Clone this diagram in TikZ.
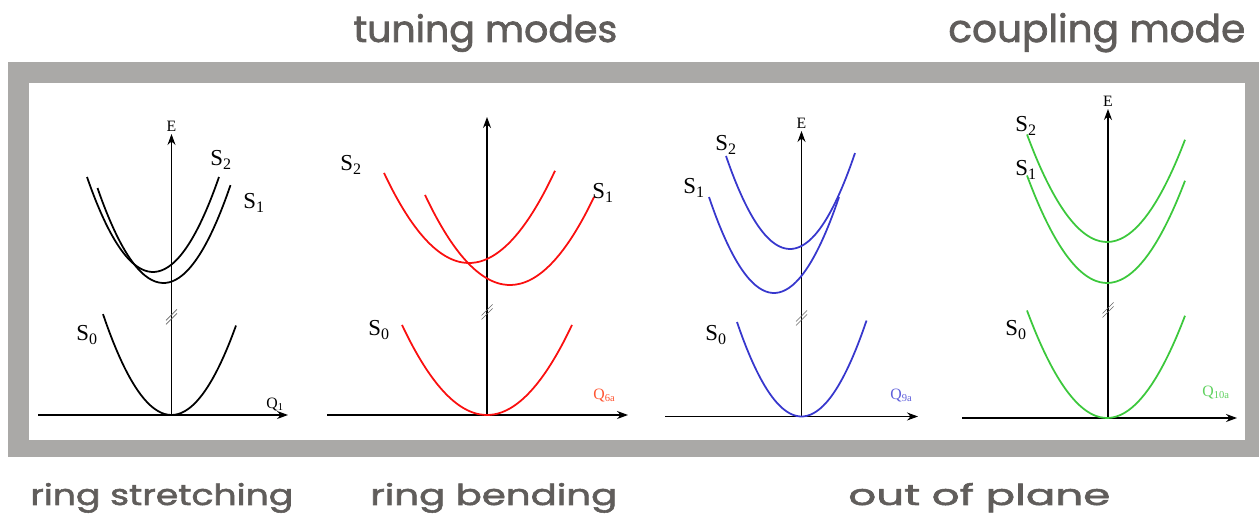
\documentclass[tikz,border=0pt]{standalone}
\usepackage{fontspec}
\setmainfont{Liberation Serif}
\newfontfamily\headfont{Poppins}[FakeBold=1.8]
\usetikzlibrary{arrows.meta}
\definecolor{framegray}{RGB}{170,169,167}
\definecolor{headgray}{RGB}{96,93,91}
\definecolor{cred}{RGB}{250,15,15}
\definecolor{qred}{RGB}{255,85,50}
\definecolor{cblue}{RGB}{55,55,205}
\definecolor{qblue}{RGB}{95,95,220}
\definecolor{cgreen}{RGB}{60,200,60}
\definecolor{qgreen}{RGB}{95,210,95}
\newcommand{\headtext}[3]{\resizebox{#1}{#2}{\headfont #3}}
\tikzset{axis/.style={-{Stealth[length=2.2mm,width=1.6mm]},line width=0.6pt},
  curve/.style={line width=1pt,smooth,samples=40},
  lvl/.style={anchor=base west,inner sep=0pt,font=\fontsize{13}{13}\selectfont},
  small/.style={inner sep=0pt,font=\fontsize{9}{9}\selectfont},
  head/.style={anchor=base west,inner sep=0pt,text=headgray},
  brk/.style={black!60,line width=0.4pt}}

\begin{document}
\begin{tikzpicture}[x=0.02cm,y=-0.02cm]
\useasboundingbox (0,0) rectangle (1259,516);
% frame
\fill[framegray] (8,62) rectangle (1259,457);
\fill[white] (29,83) rectangle (1245,440);
% headings
\node[head] (tune) at (353,42) {\headtext{5.28cm}{0.56cm}{tuning modes}};
\node[head] (coup) at (948,42) {\headtext{5.94cm}{0.58cm}{coupling mode}};
\node[head] (rstr) at (30,505) {\headtext{5.26cm}{0.44cm}{ring stretching}};
\node[head] (rbnd) at (370,505) {\headtext{4.94cm}{0.44cm}{ring bending}};
\node[head] (oop) at (848,505) {\headtext{5.24cm}{0.44cm}{out of plane}};

% ring stretching (Q1)
\coordinate (o1) at (171.5,415);
\coordinate (xa1) at (38,415);
\coordinate (xe1) at (288,415);
\coordinate (ye1) at (171.5,134);
\coordinate (b1) at (171.5,317);
\draw[axis] (xa1) -- (xe1);
\draw[axis] (o1) -- (ye1);
\node[small,anchor=south] (e1) at ([yshift=1pt]ye1) {E};
\node[small,anchor=base west] (q1) at (266,409) {Q\textsubscript{1}};
\draw[curve] plot[domain=87:219] (\x,{272-0.0218*(\x-153)^2});
\draw[curve] plot[domain=97.5:230.5] (\x,{283-0.0218*(\x-163.5)^2});
\draw[curve] plot[domain=103:236] (\x,{415-0.0215*(\x-171.5)^2});
\node[lvl] (s21) at (210,166) {S\textsubscript{2}};
\node[lvl] (s11) at (243,209) {S\textsubscript{1}};
\node[lvl] (s01) at (76,341) {S\textsubscript{0}};
\foreach \d in {-2,2}
  \draw[brk] ([shift={(-5.5,{5.5+\d})}]b1) -- ([shift={(5.5,{-5.5+\d})}]b1);

% ring bending (Q6a)
\coordinate (o2) at (487,415);
\coordinate (xa2) at (327,415);
\coordinate (xe2) at (628,415);
\coordinate (ye2) at (487,117);
\coordinate (b2) at (487,312);
\draw[axis] (xa2) -- (xe2);
\draw[axis] (o2) -- (ye2);
\node[small,anchor=base west,text=qred] (q2) at (593,400) {Q\textsubscript{6a}};
\draw[curve,cred] plot[domain=384:555] (\x,{263-0.01246*(\x-469)^2});
\draw[curve,cred] plot[domain=425:594] (\x,{285-0.01246*(\x-510)^2});
\draw[curve,cred] plot[domain=402:572] (\x,{415-0.01246*(\x-487)^2});
\node[lvl] (s22) at (340,171) {S\textsubscript{2}};
\node[lvl] (s12) at (592,199) {S\textsubscript{1}};
\node[lvl] (s02) at (368,336) {S\textsubscript{0}};
\foreach \d in {-2,2}
  \draw[brk] ([shift={(-5.5,{5.5+\d})}]b2) -- ([shift={(5.5,{-5.5+\d})}]b2);

% out of plane (Q9a)
\coordinate (o3) at (801.5,416.5);
\coordinate (xa3) at (665,416.5);
\coordinate (xe3) at (918,416.5);
\coordinate (ye3) at (801.5,131);
\coordinate (b3) at (801.5,318);
\draw[axis] (xa3) -- (xe3);
\draw[axis] (o3) -- (ye3);
\node[small,anchor=south] (e3) at ([yshift=1pt]ye3) {E};
\node[small,anchor=base west,text=qblue] (q3) at (890,400) {Q\textsubscript{9a}};
\draw[curve,cblue] plot[domain=726:855] (\x,{249-0.0227*(\x-790)^2});
\draw[curve,cblue] plot[domain=709:839] (\x,{293-0.0227*(\x-774)^2});
\draw[curve,cblue] plot[domain=737:866.5] (\x,{416.5-0.0227*(\x-801.5)^2});
\node[lvl] (s23) at (715,151) {S\textsubscript{2}};
\node[lvl] (s13) at (683,194) {S\textsubscript{1}};
\node[lvl] (s03) at (705,341) {S\textsubscript{0}};
\foreach \d in {-2,2}
  \draw[brk] ([shift={(-5.5,{5.5+\d})}]b3) -- ([shift={(5.5,{-5.5+\d})}]b3);

% coupling mode (Q10a)
\coordinate (o4) at (1108,418);
\coordinate (xa4) at (962,418);
\coordinate (xe4) at (1237,418);
\coordinate (ye4) at (1108,109);
\coordinate (b4) at (1108,310);
\draw[axis] (xa4) -- (xe4);
\draw[axis] (o4) -- (ye4);
\node[small,anchor=south] (e4) at ([yshift=1pt]ye4) {E};
\node[small,anchor=base west,text=qgreen] (q4) at (1202,397) {Q\textsubscript{10a}};
\draw[curve,cgreen] plot[domain=1027:1185] (\x,{242-0.0168*(\x-1107)^2});
\draw[curve,cgreen] plot[domain=1027:1185] (\x,{283-0.0168*(\x-1107)^2});
\draw[curve,cgreen] plot[domain=1027:1185] (\x,{418-0.0168*(\x-1107)^2});
\node[lvl] (s24) at (1015,132) {S\textsubscript{2}};
\node[lvl] (s14) at (1015,176) {S\textsubscript{1}};
\node[lvl] (s04) at (1005,336) {S\textsubscript{0}};
\foreach \d in {-2,2}
  \draw[brk] ([shift={(-5.5,{5.5+\d})}]b4) -- ([shift={(5.5,{-5.5+\d})}]b4);
\end{tikzpicture}
\end{document}
